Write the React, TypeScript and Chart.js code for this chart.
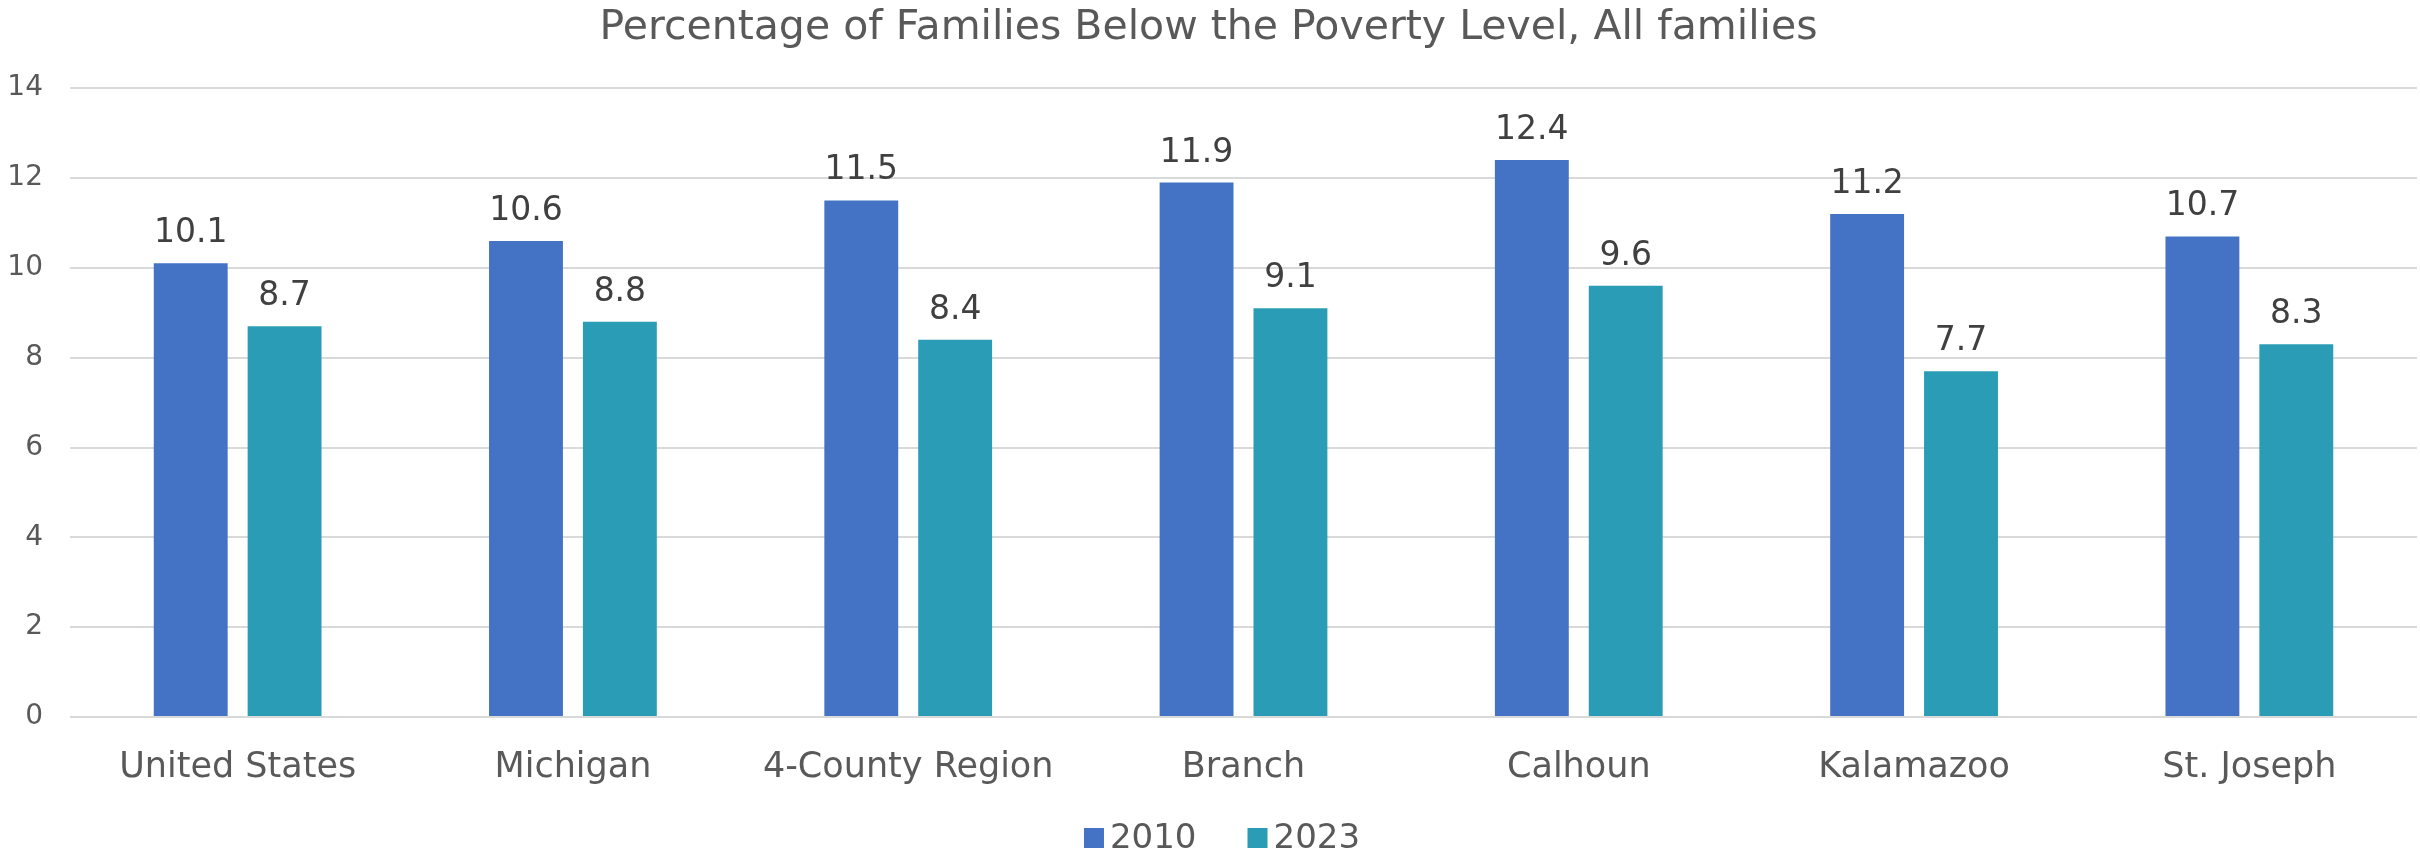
import React, { useEffect, useRef } from "react";
import { Chart, registerables } from "chart.js";

Chart.register(...registerables);

const TITLE = "Percentage of Families Below the Poverty Level, All families";
const CATEGORIES = ["United States", "Michigan", "4-County Region", "Branch", "Calhoun", "Kalamazoo", "St. Joseph"];
const SERIES_2010 = [10.1, 10.6, 11.5, 11.9, 12.4, 11.2, 10.7];
const SERIES_2023 = [8.7, 8.8, 8.4, 9.1, 9.6, 7.7, 8.3];
const SERIES_LABELS = ["2010", "2023"];
const COLORS = ["#4472C4", "#2B9CB5"];
const Y_MIN = 0;
const Y_MAX = 14;
const Y_STEP = 2;

const FONT = "'DejaVu Sans', sans-serif";

const dataLabelPlugin = {
  id: "dataLabels",
  afterDatasetsDraw(chart: any) {
    const ctx = chart.ctx;
    ctx.save();
    ctx.font = `33px ${FONT}`;
    ctx.fillStyle = "#404040";
    ctx.textAlign = "center";
    ctx.textBaseline = "alphabetic";
    chart.data.datasets.forEach((ds: any, di: number) => {
      const meta = chart.getDatasetMeta(di);
      meta.data.forEach((bar: any, i: number) => {
        ctx.fillText(String(ds.data[i].toFixed(1)), bar.x, bar.y - 21);
      });
    });
    ctx.restore();
  },
};

const customLegendPlugin = {
  id: "customLegend",
  afterDraw(chart: any) {
    const ctx = chart.ctx;
    ctx.save();
    ctx.font = `34px ${FONT}`;
    const box = 20;
    const gapBoxText = 6;
    const gapItems = 51;
    const items = chart.data.datasets.map((ds: any) => ({
      label: ds.label,
      color: ds.backgroundColor,
      w: ctx.measureText(ds.label).width,
    }));
    const total = items.reduce((s: number, it: any) => s + box + gapBoxText + it.w, 0) + gapItems * (items.length - 1);
    let x = chart.width / 2 - total / 2 + 12;
    const cy = 838;
    ctx.textBaseline = "middle";
    ctx.textAlign = "left";
    items.forEach((it: any) => {
      ctx.fillStyle = it.color;
      ctx.fillRect(x, cy - box / 2, box, box);
      x += box + gapBoxText;
      ctx.fillStyle = "#595959";
      ctx.fillText(it.label, x, cy + 1);
      x += it.w + gapItems;
    });
    ctx.restore();
  },
};

export default function App() {
  const ref = useRef<HTMLCanvasElement | null>(null);

  useEffect(() => {
    document.body.style.margin = "0";
    const canvas = ref.current;
    if (!canvas) return;
    const chart = new Chart(canvas, {
      type: "bar",
      data: {
        labels: CATEGORIES,
        datasets: [
          {
            label: SERIES_LABELS[0],
            data: SERIES_2010,
            backgroundColor: COLORS[0],
            categoryPercentage: 0.56,
            barPercentage: 0.787,
          },
          {
            label: SERIES_LABELS[1],
            data: SERIES_2023,
            backgroundColor: COLORS[1],
            categoryPercentage: 0.56,
            barPercentage: 0.787,
          },
        ],
      },
      options: {
        animation: false,
        responsive: false,
        maintainAspectRatio: false,
        layout: { padding: { left: 0, right: 3, top: 0, bottom: 41 } },
        plugins: {
          legend: { display: false },
          tooltip: { enabled: false },
          title: {
            display: true,
            text: TITLE,
            color: "#595959",
            font: { family: FONT, size: 41, weight: "normal" },
            padding: { top: 4, bottom: 35 },
          },
        },
        scales: {
          x: {
            grid: { display: false, drawTicks: false },
            border: { display: false },
            ticks: {
              color: "#595959",
              font: { family: FONT, size: 35 },
              padding: 30,
              maxRotation: 0,
              autoSkip: false,
            },
          },
          y: {
            min: Y_MIN,
            max: Y_MAX,
            grid: { color: "#D9D9D9", lineWidth: 2, drawTicks: false },
            border: { display: false },
            ticks: {
              stepSize: Y_STEP,
              color: "#595959",
              font: { family: FONT, size: 28 },
              padding: 27,
            },
            afterFit(scale: any) {
              scale.width = 70;
            },
          },
        },
      },
      plugins: [dataLabelPlugin, customLegendPlugin],
    });
    return () => chart.destroy();
  }, []);

  return <canvas ref={ref} width={2420} height={860} style={{ display: "block" }} />;
}
